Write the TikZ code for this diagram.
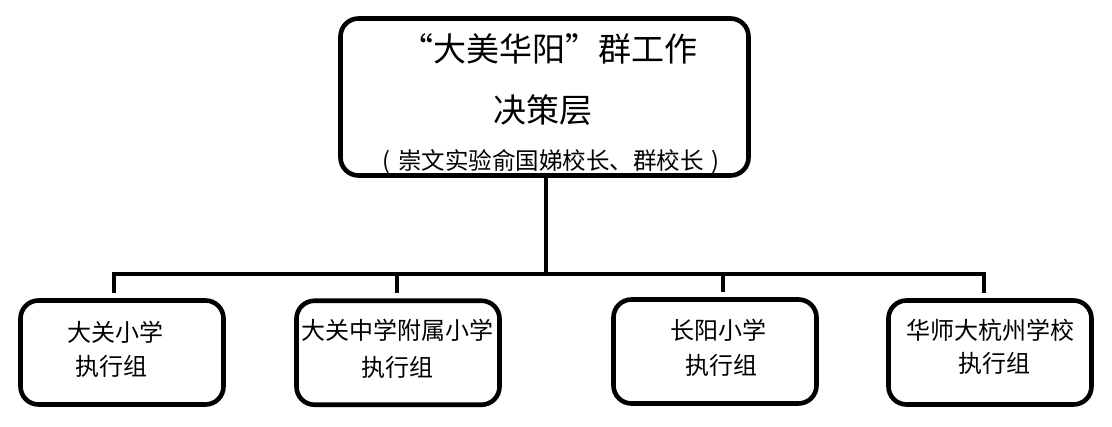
\documentclass[tikz,border=0pt]{standalone}
\usepackage{fontspec}
\newfontfamily\cjk{Noto Sans CJK SC}
\begin{document}
\begin{tikzpicture}[x=1pt,y=-1pt,
  box/.style={draw, line width=4.6pt, rounded corners=18pt, minimum width=203pt, minimum height=104pt, inner sep=0pt},
  bigbox/.style={box, minimum width=408pt, minimum height=157pt},
  lbl/.style={font=\cjk\fontsize{24}{24}\selectfont, inner sep=0pt},
  title/.style={font=\cjk\fontsize{33}{33}\selectfont, inner sep=0pt},
  sub/.style={font=\cjk\fontsize{23.5}{23.5}\selectfont, inner sep=0pt},
  conn/.style={line width=4.6pt}]
\useasboundingbox (0,0) rectangle (1112,427);
% boxes
\node[bigbox] (top) at (544.5,97) {};
\node[box] (b1) at (122,352.5) {};
\node[box] (b2) at (398,352.75) {};
\node[box] (b3) at (715,351.5) {};
\node[box] (b4) at (990,352.5) {};
% texts
\node[title] (t1) at (548.5,49) {“大美华阳”群工作};
\node[title] (t2) at (543,110) {决策层};
\node[sub] (t3) at (551,162) {(\hspace{8pt}崇文实验俞国娣校长、群校长\hspace{8pt})};
\node[lbl] (l1a) at (115,332) {大关小学};
\node[lbl] (l1b) at (111,366) {执行组};
\node[lbl] (l2a) at (397,330) {大关中学附属小学};
\node[lbl] (l2b) at (397,367) {执行组};
\node[lbl] (l3a) at (718,330) {长阳小学};
\node[lbl] (l3b) at (721,365) {执行组};
\node[lbl] (l4a) at (990,330) {华师大杭州学校};
\node[lbl] (l4b) at (994,363) {执行组};
% connectors
\coordinate (bus) at (546,274);
\coordinate (s0) at ([xshift=1.5pt]top.south);
\coordinate (d1) at ([xshift=-8pt,yshift=5.5pt]b1.north);
\coordinate (d2) at ([xshift=-1pt,yshift=5.5pt]b2.north);
\coordinate (d3) at ([xshift=8pt,yshift=5.5pt]b3.north);
\coordinate (d4) at ([xshift=-6pt,yshift=5.5pt]b4.north);
\draw[conn] (s0) -- (s0 |- bus);
\draw[conn] (d1) -- (d1 |- bus) -- (d4 |- bus) -- (d4);
\draw[conn] (d2) -- (d2 |- bus);
\draw[conn] (d3) -- (d3 |- bus);
\end{tikzpicture}
\end{document}
